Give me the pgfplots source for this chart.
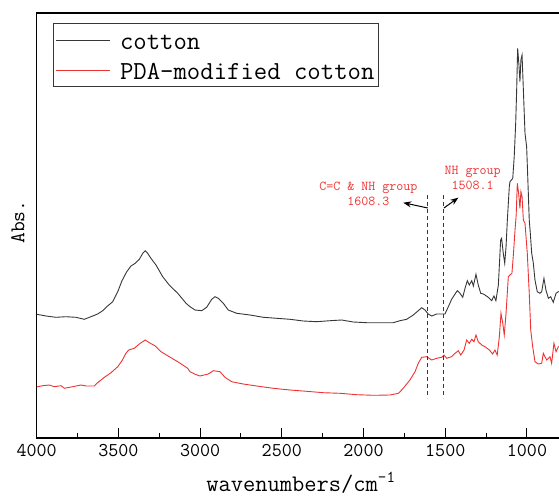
\documentclass[border=0pt]{standalone}
\usepackage{pgfplots}
\pgfplotsset{compat=1.18}
\renewcommand{\familydefault}{\ttdefault}
\usetikzlibrary{arrows.meta}
\definecolor{cgray}{RGB}{55,55,55}
\definecolor{cred}{RGB}{238,50,50}

\pgfplotstableread{
wn y
4000 314.3
3943 316
3882 317.3
3821 316.7
3760 317.3
3709 319.3
3668 316.7
3627 314
3596 310.7
3566 306
3535 301.7
3504 291.7
3478 280.7
3449 271.7
3423 266
3397 263.3
3372 259.3
3351 253.3
3336 250.7
3321 253.3
3301 258.3
3270 265
3229 276.7
3189 285
3137 293.3
3086 303.3
3062 306.7
3031 310
2990 310.7
2960 307.3
2929 299.3
2909 296.7
2889 298.3
2858 303.3
2828 310
2776 313.3
2695 315
2613 317.3
2531 318.3
2450 319.3
2369 321
2287 321.7
2205 320.7
2134 320
2063 322
1981 322.7
1899 322.7
1818 322.7
1777 320.7
1736 319.3
1696 315
1665 310.7
1644 307.7
1624 310
1604 314
1583 316
1552 314
1522 314
1502 314
1481 306.7
1461 299.3
1440 294
1426 290.7
1410 293.3
1393 297.3
1379 288.3
1365 280.7
1353 285
1338 280.7
1328 286
1312 274.3
1298 285
1283 293.3
1267 294
1257 295
1237 297.3
1216 300.7
1202 296
1190 300.7
1175 285
1161 240
1155 238.3
1145 253.3
1136 263.3
1128 246.7
1120 220
1108 186.7
1104 181.7
1087 178.3
1078 156.7
1069 123.3
1063 90
1057 48.3
1049 65
1043 81.7
1037 60
1030 55
1022 90
1012 133.3
1002 146.7
996 173.3
986 220
981 230
971 253.3
961 263.3
951 280
937 291.7
920 293.3
910 291.7
896 278.3
884 290
869 298.3
855 296.7
839 302.3
822 293.3
808 291.7
790 292
}\cotton

\pgfplotstableread{
wn y
4000 387
3994 386.7
3963 385.7
3923 385
3892 386.7
3851 385.7
3831 388.3
3780 386.7
3729 385
3698 386
3648 386
3627 382.7
3586 377.3
3545 372.7
3504 366.7
3478 360.7
3454 353.3
3437 350
3403 348.3
3372 344
3336 340
3311 342.7
3274 346
3239 351.7
3189 356.7
3127 362.7
3076 368.3
3062 371.7
3030 374.3
3001 376
2950 374
2919 370.7
2878 371.7
2848 377.3
2807 381.7
2736 384
2654 386
2552 388.3
2450 390
2348 391.3
2246 392.7
2144 393.3
2042 394.7
1940 395.3
1838 395
1787 393.3
1777 391.7
1757 388.3
1746 386
1716 380
1685 371.7
1665 363.3
1644 357.3
1614 356.7
1583 360
1552 358.3
1522 357.3
1508 355
1491 358.3
1461 356.7
1440 353.3
1420 350.7
1405 355
1385 350
1369 340
1353 343.3
1338 339.3
1324 341.7
1312 335
1298 341.7
1277 345
1257 346.7
1230 350
1210 354
1196 350
1182 355
1169 336.7
1159 313.3
1148 323.3
1139 335
1128 313.3
1114 276.7
1104 275
1092 273.3
1084 256.7
1073 230
1066 215
1059 183.3
1051 193.3
1043 208.3
1037 191.7
1030 196.7
1022 220
1012 223.3
998 253.3
986 293.3
977 330
965 346.7
951 361.7
931 364
910 363.3
900 353.3
890 356.7
879 360
859 356.7
849 363.3
835 343.3
822 351.7
808 346.7
790 348
}\pda

\begin{document}
\begin{tikzpicture}[x=1pt,y=1pt]
\begin{axis}[
  at={(36.7pt,59pt)}, anchor=south west,
  scale only axis, width=525.4pt, height=425pt,
  x dir=reverse, xmin=785, xmax=4000,
  y dir=reverse, ymin=13, ymax=438,
  xtick={1000,1500,2000,2500,3000,3500,4000},
  xticklabels={1000,1500,2000,2500,3000,3500,4000},
  minor x tick num=1,
  ytick=\empty,
  xtick pos=left,
  tick align=inside,
  major tick length=10pt, minor tick length=5pt,
  every tick/.style={black, line width=1pt},
  axis line style={line width=1.5pt},
  xticklabel style={font=\fontsize{19.5}{19.5}\selectfont, yshift=-3pt},
  xlabel={wavenumbers/cm\textsuperscript{-1}},
  xlabel style={font=\fontsize{23.8}{23.8}\selectfont, at={(axis description cs:0.503,-0.1254)}, anchor=base},
  ylabel={Abs.},
  ylabel style={font=\fontsize{21}{21}\selectfont, at={(axis description cs:-0.0356,0.508)}, anchor=center},
  legend style={at={(axis description cs:0.0305,0.9758)}, anchor=north west, draw=cgray, line width=0.8pt,
    font=\fontsize{26}{26}\selectfont, inner xsep=2pt, inner ysep=2pt, row sep=1.6pt, column sep=8pt,
    nodes={text height=24pt, text depth=4.4pt, inner ysep=0pt}},
  legend cell align=left,
  legend image code/.code={\draw[#1] (0pt,-1pt) -- (54pt,-1pt);},
]
\addplot[cgray, line width=0.9pt] table[x=wn, y=y] {\cotton};
\addlegendentry{cotton}
\addplot[cred, line width=0.9pt] table[x=wn, y=y] {\pda};
\addlegendentry{PDA-modified cotton}

\draw[cgray, line width=1.1pt, dash pattern=on 4pt off 3pt] (axis cs:1608.3,195) -- (axis cs:1608.3,398);
\draw[cgray, line width=1.1pt, dash pattern=on 4pt off 3pt] (axis cs:1508.1,195) -- (axis cs:1508.1,398);
\draw[-{Stealth[length=8pt,width=6pt]}, line width=1pt] (axis cs:1607,208) -- (axis cs:1757,202.7);
\draw[-{Stealth[length=8pt,width=6pt]}, line width=1pt] (axis cs:1508,208) -- (axis cs:1420,197.7);
\node[text=cred, align=center, font=\fontsize{13.6}{15}\selectfont] at (axis cs:1971,194) {C=C \& NH group\\1608.3};
\node[text=cred, align=center, font=\fontsize{13.6}{15}\selectfont] at (axis cs:1332,177.5) {NH group\\1508.1};
\end{axis}
\pgfresetboundingbox
\path[use as bounding box] (0,0) rectangle (559,497);
\end{tikzpicture}
\end{document}
